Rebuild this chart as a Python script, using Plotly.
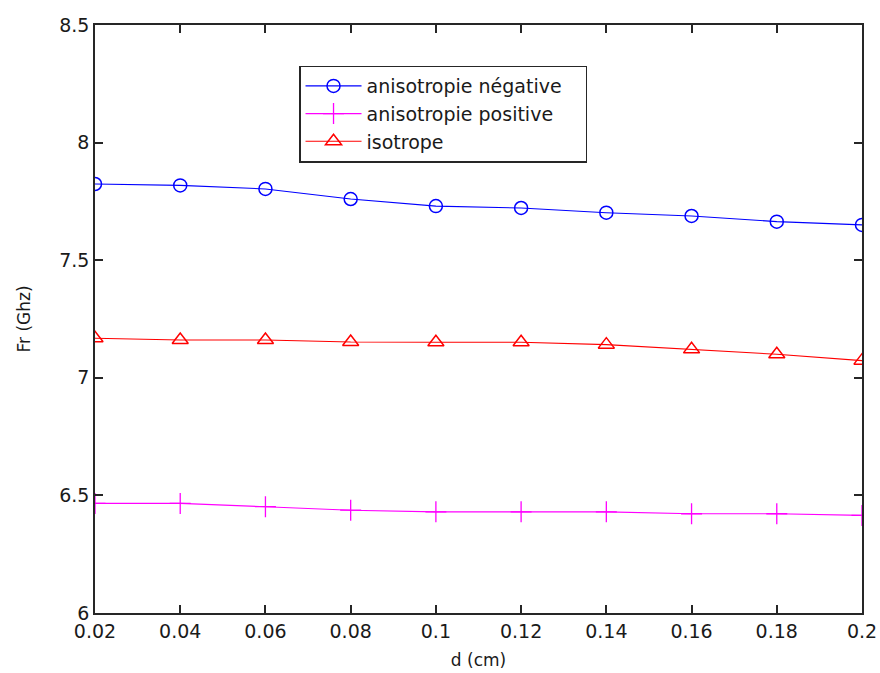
import plotly.graph_objects as go

d = [0.02, 0.04, 0.06, 0.08, 0.10, 0.12, 0.14, 0.16, 0.18, 0.20]
aniso_neg = [7.824, 7.818, 7.803, 7.760, 7.730, 7.722, 7.702, 7.688, 7.664, 7.650]
aniso_pos = [6.466, 6.466, 6.452, 6.437, 6.430, 6.430, 6.430, 6.422, 6.422, 6.415]
isotrope = [7.168, 7.161, 7.161, 7.152, 7.151, 7.151, 7.141, 7.121, 7.100, 7.073]
series_names = ["anisotropie négative", "anisotropie positive", "isotrope"]

x_ticks = [0.02, 0.04, 0.06, 0.08, 0.1, 0.12, 0.14, 0.16, 0.18, 0.2]
x_labels = ["0.02", "0.04", "0.06", "0.08", "0.1", "0.12", "0.14", "0.16", "0.18", "0.2"]
y_ticks = [6, 6.5, 7, 7.5, 8, 8.5]
y_labels = ["6", "6.5", "7", "7.5", "8", "8.5"]

FONT = "DejaVu Sans"
INK = "#1a1a1a"
PAD = "\u00a0\u00a0\u00a0"

fig = go.Figure()
fig.add_trace(go.Scatter(x=d, y=aniso_neg, mode="lines+markers", name=series_names[0] + PAD,
                         line=dict(color="#0000ff", width=1.1),
                         marker=dict(symbol="circle-open", size=13, color="#0000ff", line=dict(width=1.5))))
fig.add_trace(go.Scatter(x=d, y=aniso_pos, mode="lines+markers", name=series_names[1],
                         line=dict(color="#ff00ff", width=1.1),
                         marker=dict(symbol="cross-thin-open", size=15, color="#ff00ff", line=dict(width=1.3, color="#ff00ff"))))
fig.add_trace(go.Scatter(x=d, y=isotrope, mode="lines+markers", name=series_names[2],
                         line=dict(color="#ff0000", width=1.1),
                         marker=dict(symbol="triangle-up-open", size=14, color="#ff0000", line=dict(width=1.5))))

axis_common = dict(showgrid=False, zeroline=False, showline=True, linecolor="#262626", linewidth=1.5,
                   mirror="ticks", ticks="inside", ticklen=8, tickcolor="#262626", tickwidth=1.5,
                   tickfont=dict(family=FONT, size=19, color=INK))

fig.update_layout(
    width=880, height=673,
    margin=dict(l=95, r=18, t=25, b=60, autoexpand=False),
    paper_bgcolor="white", plot_bgcolor="white",
    font=dict(family=FONT, size=19, color=INK),
    xaxis=dict(range=[0.02, 0.2], tickvals=x_ticks, ticktext=x_labels,
               title=dict(text="d (cm)", font=dict(family=FONT, size=17, color=INK), standoff=14), **axis_common),
    yaxis=dict(range=[6, 8.5], tickvals=y_ticks, ticktext=y_labels,
               title=dict(text="Fr (Ghz)", font=dict(family=FONT, size=17, color=INK), standoff=24), **axis_common),
    legend=dict(x=0.266, y=0.931, xanchor="left", yanchor="top", bgcolor="white",
                bordercolor="#262626", borderwidth=1.5, font=dict(family=FONT, size=19, color=INK),
                tracegroupgap=0, itemwidth=56),
    showlegend=True,
)

fig.write_html("out.html", config={"displayModeBar": False},
               post_script="document.body.style.margin='0px';")
